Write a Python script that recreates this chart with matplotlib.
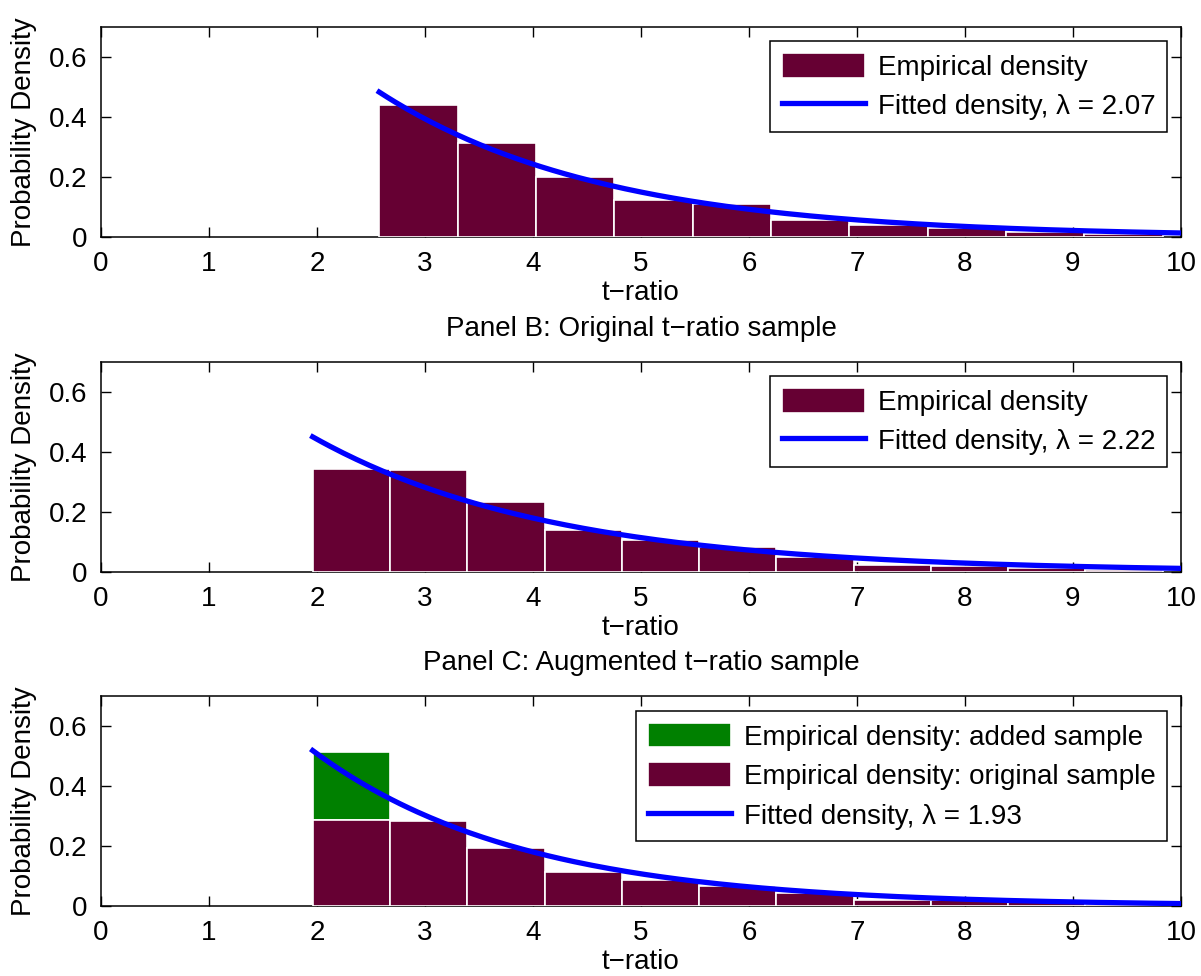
import numpy as np
import matplotlib
matplotlib.use('Agg')
import matplotlib.pyplot as plt

plt.rcParams['font.family'] = ['Liberation Sans', 'DejaVu Sans']
plt.rcParams['font.size'] = 20

# Panel A: t-ratios above 2.576
a_start, a_width = 2.576, 0.7254
a_dens = [0.439, 0.312, 0.201, 0.123, 0.111, 0.057, 0.039, 0.029, 0.017, 0.010]
a_lambda = 2.07

# Panel B: original sample, t-ratios above 1.96
b_start, b_width = 1.96, 0.7155
b_dens = [0.343, 0.339, 0.232, 0.139, 0.106, 0.084, 0.051, 0.022, 0.021, 0.013, 0.008]
b_lambda = 2.22

# Panel C: augmented sample
c_start, c_width = 1.96, 0.7155
c_orig = [0.287, 0.282, 0.192, 0.113, 0.086, 0.067, 0.042, 0.020, 0.019, 0.012, 0.007]
c_added = [0.227, 0, 0, 0, 0, 0, 0, 0, 0, 0, 0]
c_lambda = 1.93

maroon = '#660033'
green = '#008000'

fig = plt.figure(figsize=(12.01, 9.76), dpi=100)
bottoms = [1 - 237/976, 1 - 572/976, 1 - 906/976]
axs = [fig.add_axes([101/1201, b, 1080/1201, 210/976]) for b in bottoms]


def fitted(ax, x0, lam):
    x = np.linspace(x0, 10, 200)
    ax.plot(x, np.exp(-(x - x0)/lam)/lam, color='blue', lw=3.8,
            label=f'Fitted density, \u03bb = {lam:.2f}', zorder=4)


def style(ax):
    ax.set_xlim(0, 10)
    ax.set_ylim(0, 0.7)
    ax.set_xticks(range(0, 11))
    ax.set_yticks([0, 0.2, 0.4, 0.6])
    ax.set_yticklabels(['0', '0.2', '0.4', '0.6'])
    ax.tick_params(direction='in', length=7, width=1, top=True, right=True, pad=10)
    ax.set_xlabel('t\u2212ratio', labelpad=2)
    ax.set_ylabel('Probability Density', labelpad=8)
    for sp in ax.spines.values():
        sp.set_linewidth(1.1)


leg_kw = dict(loc='upper right', bbox_to_anchor=(0.987, 0.933), borderaxespad=0,
              fancybox=False, edgecolor='black', framealpha=1, handlelength=3.0,
              handleheight=1.0, handletextpad=0.45, labelspacing=0.42, borderpad=0.42)

ax = axs[0]
xa = a_start + a_width*np.arange(len(a_dens))
ax.bar(xa, a_dens, width=a_width, align='edge', color=maroon, edgecolor='white',
       lw=1.2, label='Empirical density', zorder=3)
fitted(ax, a_start, a_lambda)
style(ax)
h, l = ax.get_legend_handles_labels()
leg = ax.legend(h[::-1], l[::-1], **leg_kw)
leg.get_frame().set_linewidth(1.1)

ax = axs[1]
xb = b_start + b_width*np.arange(len(b_dens))
ax.bar(xb, b_dens, width=b_width, align='edge', color=maroon, edgecolor='white',
       lw=1.2, label='Empirical density', zorder=3)
fitted(ax, b_start, b_lambda)
style(ax)
ax.set_title('Panel B: Original t\u2212ratio sample', pad=19, fontsize=20)
h, l = ax.get_legend_handles_labels()
leg = ax.legend(h[::-1], l[::-1], **leg_kw)
leg.get_frame().set_linewidth(1.1)

ax = axs[2]
xc = c_start + c_width*np.arange(len(c_orig))
hg = ax.bar(xc, c_added, bottom=c_orig, width=c_width, align='edge', color=green,
            edgecolor='white', lw=1.2, label='Empirical density: added sample', zorder=3)
hm = ax.bar(xc, c_orig, width=c_width, align='edge', color=maroon, edgecolor='white',
            lw=1.2, label='Empirical density: original sample', zorder=3)
fitted(ax, c_start, c_lambda)
style(ax)
ax.set_title('Panel C: Augmented t\u2212ratio sample', pad=19, fontsize=20)
kw = dict(leg_kw)
kw['bbox_to_anchor'] = (0.987, 0.929)
h, l = ax.get_legend_handles_labels()
leg = ax.legend([h[1], h[2], h[0]], [l[1], l[2], l[0]], **kw)
leg.get_frame().set_linewidth(1.1)

fig.savefig('out.png', dpi=100)
